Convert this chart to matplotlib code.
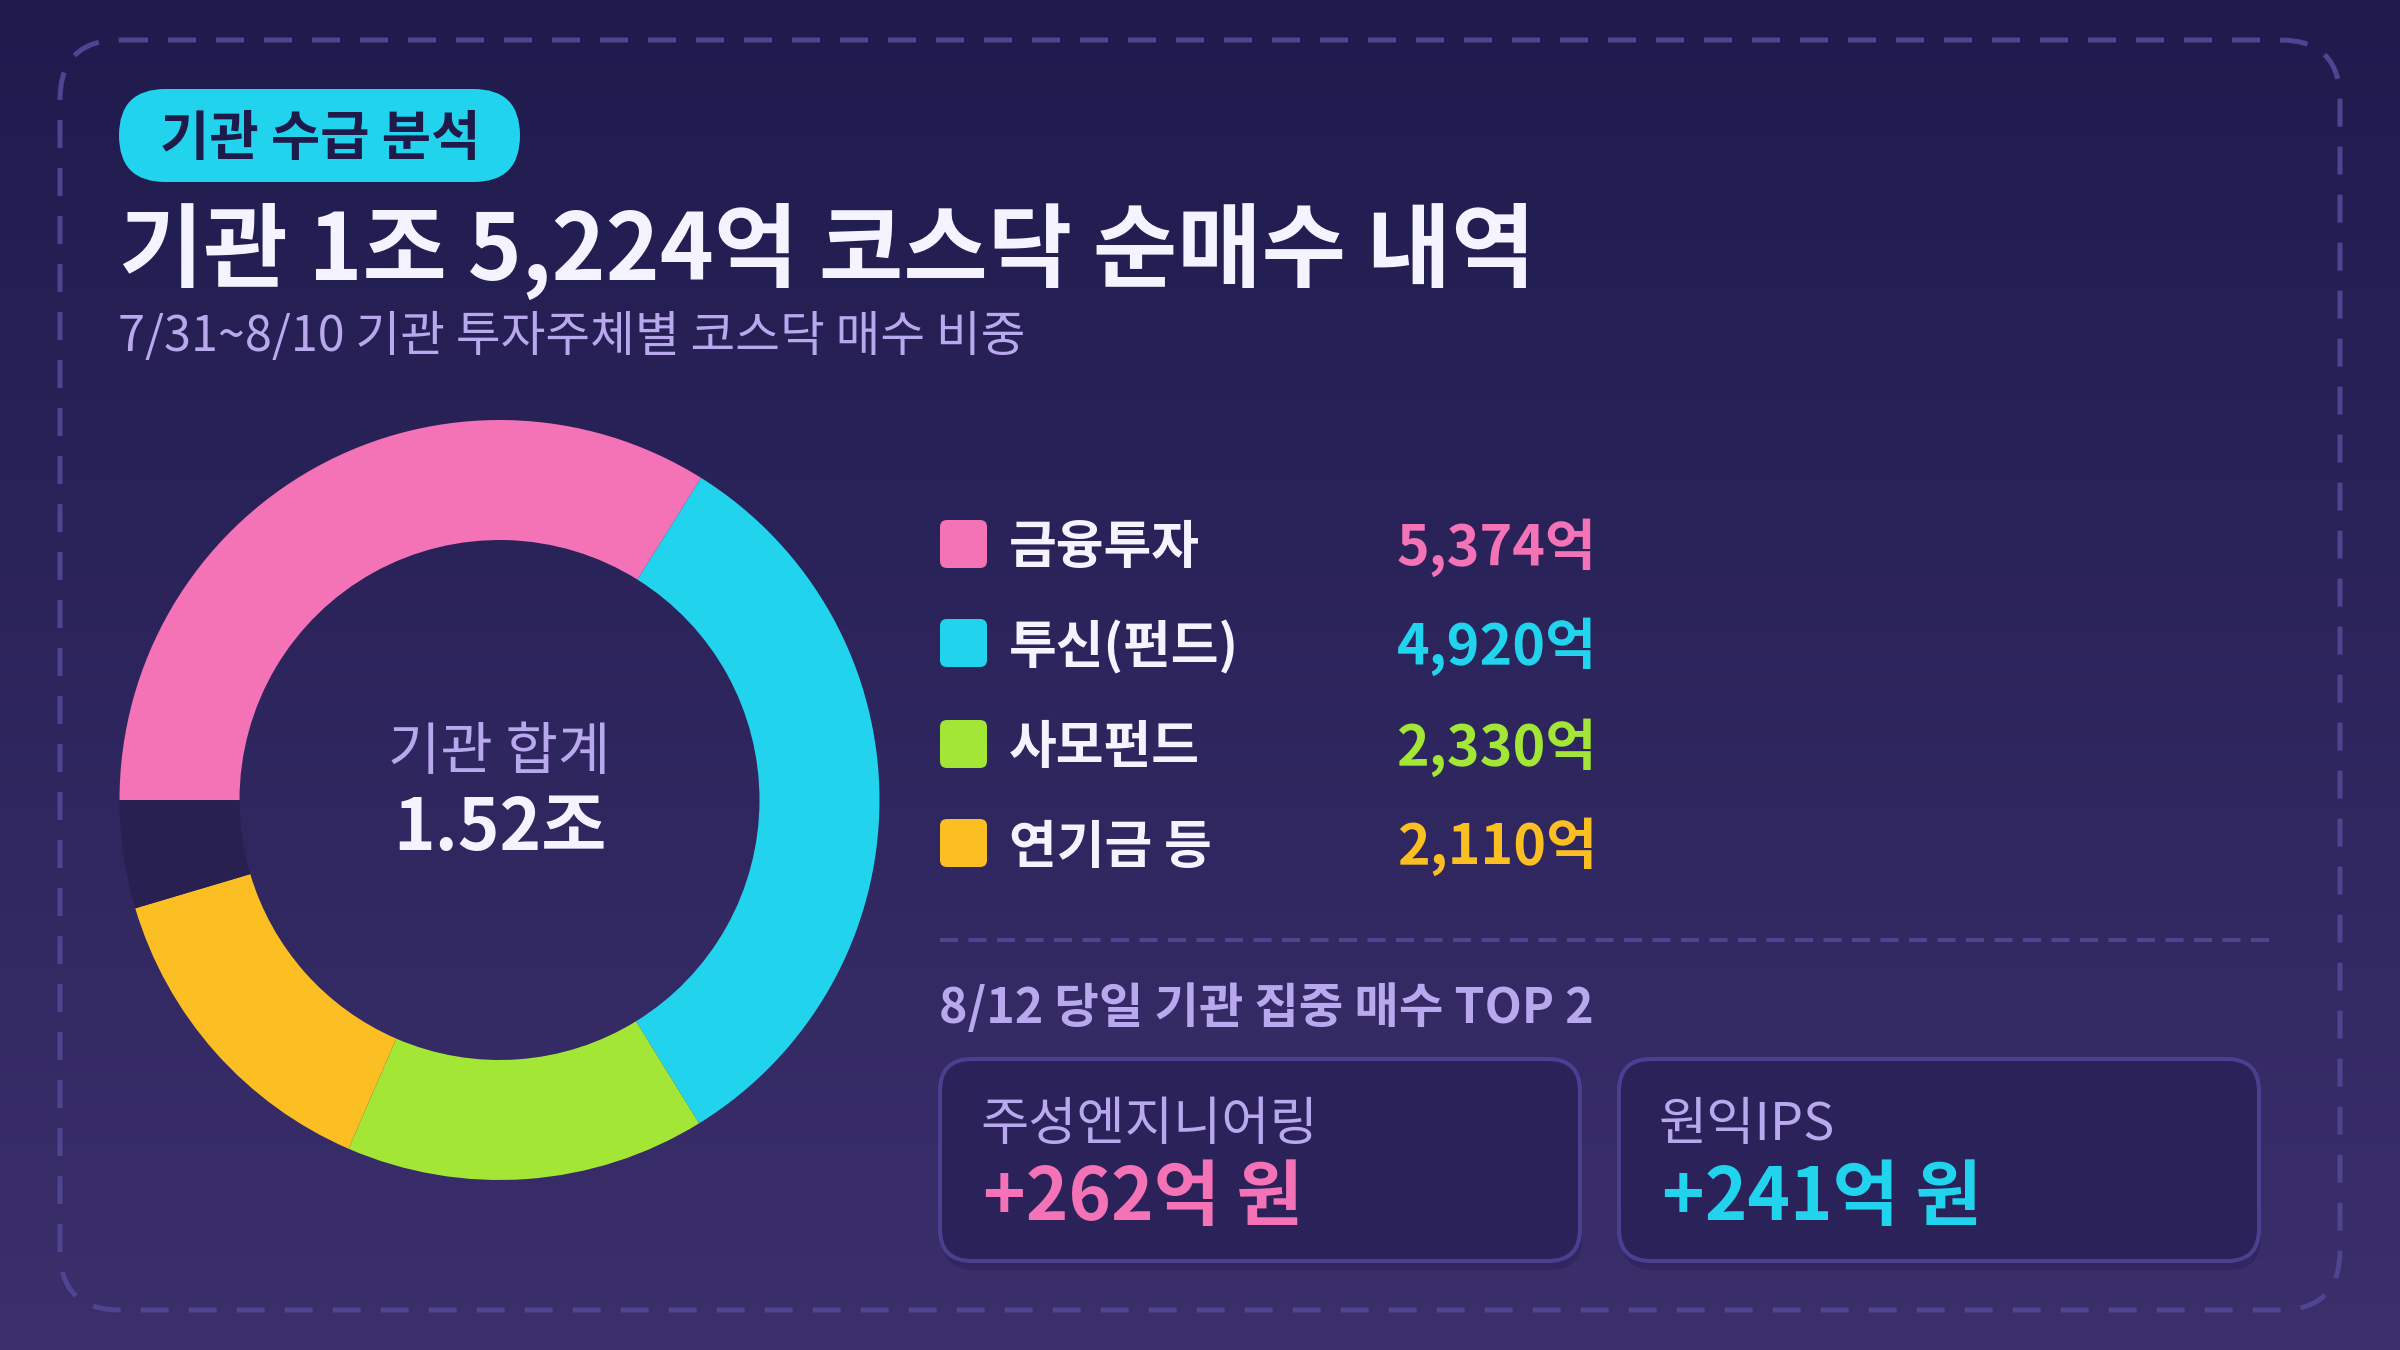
import matplotlib
matplotlib.use("Agg")
import matplotlib.pyplot as plt
import numpy as np
from matplotlib.patches import FancyBboxPatch
from matplotlib.colors import LinearSegmentedColormap

# ---------------- data ----------------
badge_text = "기관 수급 분석"
title_text = "기관 1조 5,224억 코스닥 순매수 내역"
subtitle_text = "7/31~8/10 기관 투자주체별 코스닥 매수 비중"
categories = ["금융투자", "투신(펀드)", "사모펀드", "연기금 등"]
values = [5374, 4920, 2330, 2110]          # 억 원 (legend)
# ring shares (%) as drawn in the donut, incl. the dark remainder slice
ring_share = [33.9, 32.3, 15.3, 13.9, 4.6]
center_label = "기관 합계"
center_value = "1.52조"
top_title = "8/12 당일 기관 집중 매수 TOP 2"
top_names = ["주성엔지니어링", "원익IPS"]
top_values = [262, 241]                     # 억 원

# ---------------- style ----------------
FONT = ["Noto Sans CJK KR", "DejaVu Sans"]
plt.rcParams["font.family"] = FONT
W, H, DPI = 2400, 1350, 200
PX = 72.0 / DPI  # points per pixel

bg_top, bg_bot = "#1f1b4d", "#3b2f6c"
dash_col = "#4e4490"
white = "#f5f3ff"
lav = "#b8a8ee"
slice_cols = ["#f472b6", "#22d3ee", "#a3e635", "#fbbf24"]
other_col = "#272051"
card_face = "#2a2259"
card_edge = "#4b4090"

fig = plt.figure(figsize=(W / DPI, H / DPI), dpi=DPI)
ax = fig.add_axes([0, 0, 1, 1])
ax.set_xlim(0, W)
ax.set_ylim(H, 0)
ax.axis("off")

# background gradient
cmap = LinearSegmentedColormap.from_list("bg", [bg_top, bg_bot])
grad = np.linspace(0, 1, 256).reshape(-1, 1)
ax.imshow(grad, extent=(0, W, H, 0), cmap=cmap, aspect="auto", zorder=0)

# dashed rounded border
lw_b = 5 * PX
border = FancyBboxPatch((60, 40), 2280, 1270, boxstyle="round,pad=0,rounding_size=60",
                        fill=False, edgecolor=dash_col, linewidth=lw_b,
                        linestyle=(0, (28 * PX / lw_b, 20 * PX / lw_b)), zorder=1)
ax.add_patch(border)

# badge
badge = FancyBboxPatch((119, 89), 401, 93, boxstyle="round,pad=0,rounding_size=46.5",
                       facecolor="#22d3ee", edgecolor="none", zorder=2)
ax.add_patch(badge)
ax.text(320, 140, badge_text, fontsize=19.3, fontweight="bold", color="#1e1b4b",
        ha="center", va="center", zorder=3)

# title & subtitle
ax.text(119, 251, title_text, fontsize=33, fontweight="bold", color=white,
        ha="left", va="center", zorder=3)
ax.text(118, 337, subtitle_text, fontsize=17.5, color=lav,
        ha="left", va="center", zorder=3)

# legend
row_y = [544, 643, 744, 843]
for cat, val, col, y in zip(categories, values, slice_cols, row_y):
    sq = FancyBboxPatch((940, y - 24), 47, 48, boxstyle="round,pad=0,rounding_size=7",
                        facecolor=col, edgecolor="none", zorder=2)
    ax.add_patch(sq)
    ax.text(1009, y + 4, cat, fontsize=18.7, fontweight="bold", color=white,
            ha="left", va="center", zorder=3)
    ax.text(1597, y + 4, f"{val:,}억", fontsize=20, fontweight="bold", color=col,
            ha="right", va="center", zorder=3)

# separator
lw_s = 4 * PX
ax.plot([940, 2272], [940, 940], color=dash_col, linewidth=lw_s,
        linestyle=(0, (18 * PX / lw_s, 10.5 * PX / lw_s)), zorder=2)

ax.text(939, 1008, top_title, fontsize=17.4, fontweight="bold", color=lav,
        ha="left", va="center", zorder=3)

# cards
card_x = [940, 1619]
card_val_cols = [slice_cols[0], slice_cols[1]]
for cx, name, v, col in zip(card_x, top_names, top_values, card_val_cols):
    sh = FancyBboxPatch((cx + 2, 1068), 640, 202, boxstyle="round,pad=0,rounding_size=32",
                        facecolor="#1a1540", edgecolor="none", alpha=0.25, zorder=2)
    ax.add_patch(sh)
    card = FancyBboxPatch((cx, 1059), 640, 202, boxstyle="round,pad=0,rounding_size=32",
                          facecolor=card_face, edgecolor=card_edge, linewidth=4 * PX, zorder=3)
    ax.add_patch(card)
    ax.text(cx + 40, 1125, name, fontsize=18.9, color=lav, ha="left", va="center", zorder=4)
    ax.text(cx + 43, 1199, f"+{v}억 원", fontsize=26, fontweight="bold", color=col,
            ha="left", va="center", zorder=4)

# donut
cx, cy, R, r_in = 499.5, 800, 380, 260
half = 400
dax = fig.add_axes([(cx - half) / W, (H - cy - half) / H, 2 * half / W, 2 * half / H])
dax.pie(ring_share, colors=slice_cols + [other_col], startangle=180,
        counterclock=False, radius=R, frame=True,
        wedgeprops=dict(width=R - r_in, linewidth=0))
dax.set_xlim(-half, half)
dax.set_ylim(-half, half)
dax.set_aspect("equal")
dax.axis("off")
dax.patch.set_alpha(0)

dax.text(0, 47, center_label, fontsize=20.5, color=lav, ha="center", va="center")
dax.text(0, -29, center_value, fontsize=25.5, fontweight="bold", color=white,
         ha="center", va="center")

fig.savefig("out.png", dpi=DPI)
